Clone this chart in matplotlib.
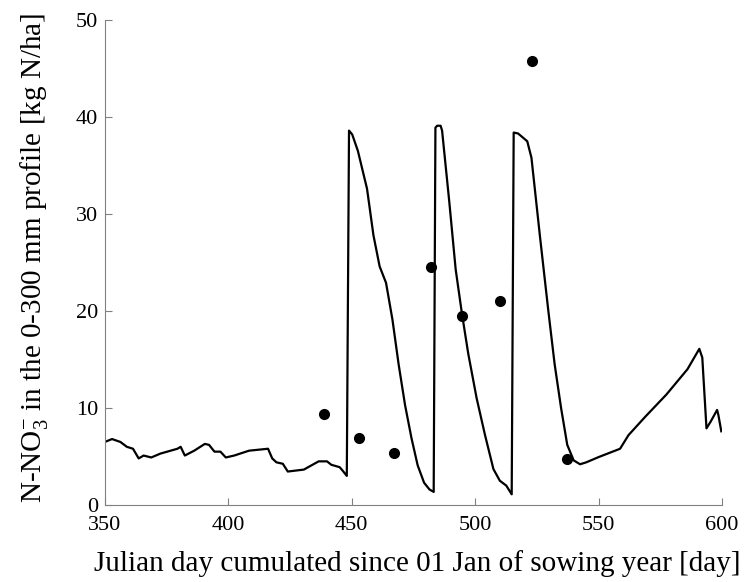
import matplotlib
matplotlib.use('Agg')
import matplotlib.pyplot as plt

plt.rcParams['font.family'] = ['Liberation Serif', 'DejaVu Serif']
plt.rcParams['mathtext.fontset'] = 'custom'
plt.rcParams['mathtext.rm'] = 'Liberation Serif'

# Simulated nitrate in profile (line)
sim_day = [350, 352.9, 356.3, 358.9, 361.4, 363.7, 365.7, 368.8, 372.5, 379.4, 380.7,
           382.4, 386.2, 390.5, 392.2, 394.4, 396.8, 399.0, 402.4, 408.4, 416.1, 417.8,
           419.5, 422.1, 424.1, 430.6, 436.6, 440.0, 441.7, 445.1, 446.3, 448.0,
           448.9, 450.2, 452.5, 456.2, 458.8, 461.3, 463.9, 466.5, 469.0, 471.6, 474.2,
           476.7, 479.3, 481.5, 483.2,
           483.9, 484.6, 486.0, 486.6, 489.5, 492.1, 494.6, 497.2, 500.6, 504.0, 507.4,
           510.0, 512.6, 514.8,
           515.6, 517.4, 521.1, 522.8, 526.2, 529.6, 532.2, 534.8, 537.3, 539.9, 542.5,
           545.0, 550.1, 558.7, 562.1, 568.9, 577.5, 586.0, 590.8, 592.0, 593.7, 595.4,
           598.0, 598.5, 599.7]
sim_val = [6.5, 6.8, 6.5, 6.0, 5.8, 4.8, 5.1, 4.9, 5.3, 5.8, 6.0,
           5.1, 5.6, 6.3, 6.2, 5.5, 5.5, 4.9, 5.1, 5.6, 5.8, 4.8,
           4.4, 4.25, 3.45, 3.65, 4.5, 4.5, 4.15, 3.9, 3.55, 3.0,
           38.6, 38.2, 36.5, 32.6, 27.8, 24.6, 22.9, 19.1, 14.5, 10.3, 6.9,
           4.1, 2.3, 1.6, 1.35,
           38.9, 39.1, 39.1, 38.6, 31.3, 24.3, 19.8, 15.6, 11.0, 7.2, 3.7,
           2.5, 2.0, 1.1,
           38.4, 38.3, 37.5, 35.8, 27.8, 20.1, 14.5, 10.0, 6.2, 4.6, 4.2,
           4.4, 4.95, 5.8, 7.2, 9.1, 11.4, 14.0, 16.1, 15.2, 7.9, 8.6,
           9.8, 9.3, 7.6]

# Measured values (dots)
obs_day = [438.8, 453.1, 467.0, 482.2, 494.8, 510.0, 523.2, 537.0]
obs_val = [9.4, 6.9, 5.4, 24.5, 19.5, 21.0, 45.8, 4.7]

fig = plt.figure(figsize=(7.49, 5.82), dpi=100)
ax = fig.add_axes([0.140, 0.1323, 0.824, 0.8333])
ax.plot(sim_day, sim_val, color='black', linewidth=1.6)
ax.plot(obs_day, obs_val, 'o', color='black', markersize=7)

ax.set_xlim(350, 600)
ax.set_ylim(0, 50)
ax.set_xticks([350, 400, 450, 500, 550, 600])
ax.set_yticks([0, 10, 20, 30, 40, 50])

for s in ['top', 'right']:
    ax.spines[s].set_visible(False)
for s in ['left', 'bottom']:
    ax.spines[s].set_color('#808080')
ax.tick_params(direction='in', color='#808080', length=5, labelsize=16)
ax.tick_params(axis='x', pad=8)
ax.tick_params(axis='y', pad=5)

ax.set_xlabel('Julian day cumulated since 01 Jan of sowing year [day]', fontsize=21)
ax.set_ylabel(r'N-NO$\mathregular{_3^{-}}$ in the 0-300 mm profile [kg N/ha]', fontsize=21)
ax.xaxis.set_label_coords(0.506, -0.092)
ax.yaxis.set_label_coords(-0.089, 0.51)

fig.savefig('out.png', dpi=100)
